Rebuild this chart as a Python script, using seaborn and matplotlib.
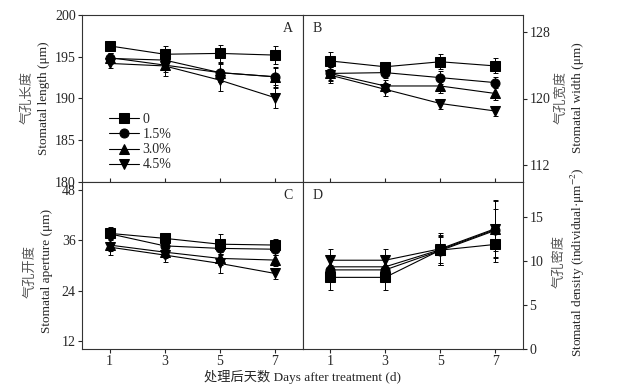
import numpy as np
import pandas as pd
import matplotlib
matplotlib.use("Agg")
import matplotlib.pyplot as plt
import seaborn as sns

days = [1, 3, 5, 7]
groups = ["0", "1.5%", "3.0%", "4.5%"]

# A: stomatal length
length_vals = {
    "0": [196.3, 195.3, 195.4, 195.2],
    "1.5%": [194.8, 194.6, 193.1, 192.6],
    "3.0%": [194.9, 194.0, 193.1, 192.6],
    "4.5%": [194.2, 193.9, 192.2, 190.1],
}
length_err = {
    "0": [0.5, 1.0, 1.0, 1.1],
    "1.5%": [0.7, 0.9, 1.1, 1.0],
    "3.0%": [0.6, 0.8, 1.0, 1.2],
    "4.5%": [0.6, 1.2, 1.3, 1.2],
}
# B: stomatal width
width_vals = {
    "0": [124.5, 123.8, 124.4, 123.9],
    "1.5%": [123.0, 123.1, 122.5, 121.9],
    "3.0%": [123.0, 121.5, 121.5, 120.6],
    "4.5%": [122.8, 121.1, 119.4, 118.5],
}
width_err = {
    "0": [1.1, 0.4, 0.9, 0.9],
    "1.5%": [0.8, 0.6, 0.8, 0.7],
    "3.0%": [0.9, 0.7, 0.8, 0.8],
    "4.5%": [1.0, 0.8, 0.6, 0.6],
}
# C: stomatal aperture
aperture_vals = {
    "0": [37.7, 36.5, 35.1, 34.9],
    "1.5%": [37.6, 34.7, 34.1, 33.9],
    "3.0%": [34.9, 33.2, 31.7, 31.3],
    "4.5%": [34.4, 32.5, 30.5, 28.1],
}
aperture_err = {
    "0": [1.0, 0.8, 2.4, 1.4],
    "1.5%": [1.6, 1.5, 1.6, 1.5],
    "3.0%": [1.5, 1.4, 1.6, 1.3],
    "4.5%": [2.0, 1.7, 2.2, 1.4],
}
# D: stomatal density
density_vals = {
    "0": [8.15, 8.15, 11.25, 11.9],
    "1.5%": [9.0, 9.0, 11.2, 13.5],
    "3.0%": [9.35, 9.35, 11.3, 13.6],
    "4.5%": [10.1, 10.1, 11.4, 13.7],
}
density_err = {
    "0": [1.4, 1.4, 1.5, 2.0],
    "1.5%": [1.3, 1.3, 1.6, 2.4],
    "3.0%": [1.3, 1.3, 1.7, 3.2],
    "4.5%": [1.3, 1.3, 1.8, 3.2],
}

sns.set_style("ticks")
plt.rcParams["font.family"] = ["Liberation Serif", "Noto Sans CJK SC"]
plt.rcParams["mathtext.fontset"] = "stix"
plt.rcParams["axes.linewidth"] = 0.8

markers = {"0": "s", "1.5%": "o", "3.0%": "^", "4.5%": "v"}

W, H = 630, 389
fig = plt.figure(figsize=(6.3, 3.89), dpi=100)
gs = fig.add_gridspec(2, 2, left=82 / W, right=523 / W, top=1 - 15 / H,
                      bottom=1 - 349 / H, hspace=0, wspace=0)
axA = fig.add_subplot(gs[0, 0])
axB = fig.add_subplot(gs[0, 1])
axC = fig.add_subplot(gs[1, 0])
axD = fig.add_subplot(gs[1, 1])

panels = [
    (axA, length_vals, length_err, (180, 200), [180, 185, 190, 195, 200], "A"),
    (axB, width_vals, width_err, (110, 130), [112, 120, 128], "B"),
    (axC, aperture_vals, aperture_err, (10, 50), [12, 24, 36, 48], "C"),
    (axD, density_vals, density_err, (0, 19), [0, 5, 10, 15], "D"),
]

for ax, vals, errs, ylim, yticks, letter in panels:
    rows = []
    for g in groups:
        for d, v, e in zip(days, vals[g], errs[g]):
            rows.append({"day": d, "value": v, "err": e, "group": g})
    df = pd.DataFrame(rows)
    for g in groups:
        sub = df[df["group"] == g]
        ax.errorbar(sub["day"], sub["value"], yerr=sub["err"], fmt="none",
                    ecolor="black", elinewidth=0.7, capsize=1.8, capthick=0.7,
                    zorder=2)
    sns.lineplot(data=df, x="day", y="value", style="group", markers=markers,
                 dashes=False, color="black", markersize=6.5, linewidth=0.8,
                 markeredgecolor="black", legend=(letter == "A"), ax=ax,
                 zorder=3)
    ax.set_xlim(0, 8)
    ax.set_xticks(days)
    ax.set_ylim(*ylim)
    ax.set_yticks(yticks)
    ax.set_xlabel("")
    ax.set_ylabel("")
    ax.tick_params(labelsize=10, length=3, width=0.8, pad=1.5, direction="out")
    for s in ax.spines.values():
        s.set_visible(True)
        s.set_color("#333333")
    if letter in ("A", "B"):
        ax.tick_params(axis="x", direction="in", labelbottom=False)
    if letter in ("B", "D"):
        ax.yaxis.tick_right()
        ax.tick_params(axis="y", left=False, labelleft=False)
    if letter in ("A", "C"):
        ax.text(0.955, 0.92, letter, transform=ax.transAxes, ha="right",
                va="center", fontsize=10)
    else:
        ax.text(0.045, 0.92, letter, transform=ax.transAxes, ha="left",
                va="center", fontsize=10)

leg = axA.get_legend()
handles, labels = axA.get_legend_handles_labels()
leg.remove()
axA.legend(handles, labels, loc="upper left", bbox_to_anchor=(0.08, 0.47),
           frameon=False, fontsize=10, handlelength=2.1, handletextpad=0.3,
           labelspacing=0.15, borderpad=0.2)

# axis titles: Chinese (grey) and English lines
cn_color = "#555555"
def ylabel_pair(x_cn, x_en, y_center, cn, en):
    fig.text(x_cn / W, 1 - y_center / H, cn, rotation=90, ha="center",
             va="center", fontsize=9.5, color=cn_color,
             family=["Noto Sans CJK SC"])
    fig.text(x_en / W, 1 - y_center / H, en, rotation=90, ha="center",
             va="center", fontsize=9.5)

ylabel_pair(27, 44, 98, "气孔长度", "Stomatal length (μm)")
ylabel_pair(30, 47, 271, "气孔开度", "Stomatal aperture (μm)")
ylabel_pair(561, 578, 98, "气孔宽度", "Stomatal width (μm)")
ylabel_pair(559, 578, 262, "气孔密度", r"Stomatal density (individual·μm$^{-2}$)")

fig.text(302 / W, 1 - 377 / H, "处理后天数 Days after treatment (d)",
         ha="center", va="center", fontsize=9.5)

fig.savefig("out.png", dpi=100)
